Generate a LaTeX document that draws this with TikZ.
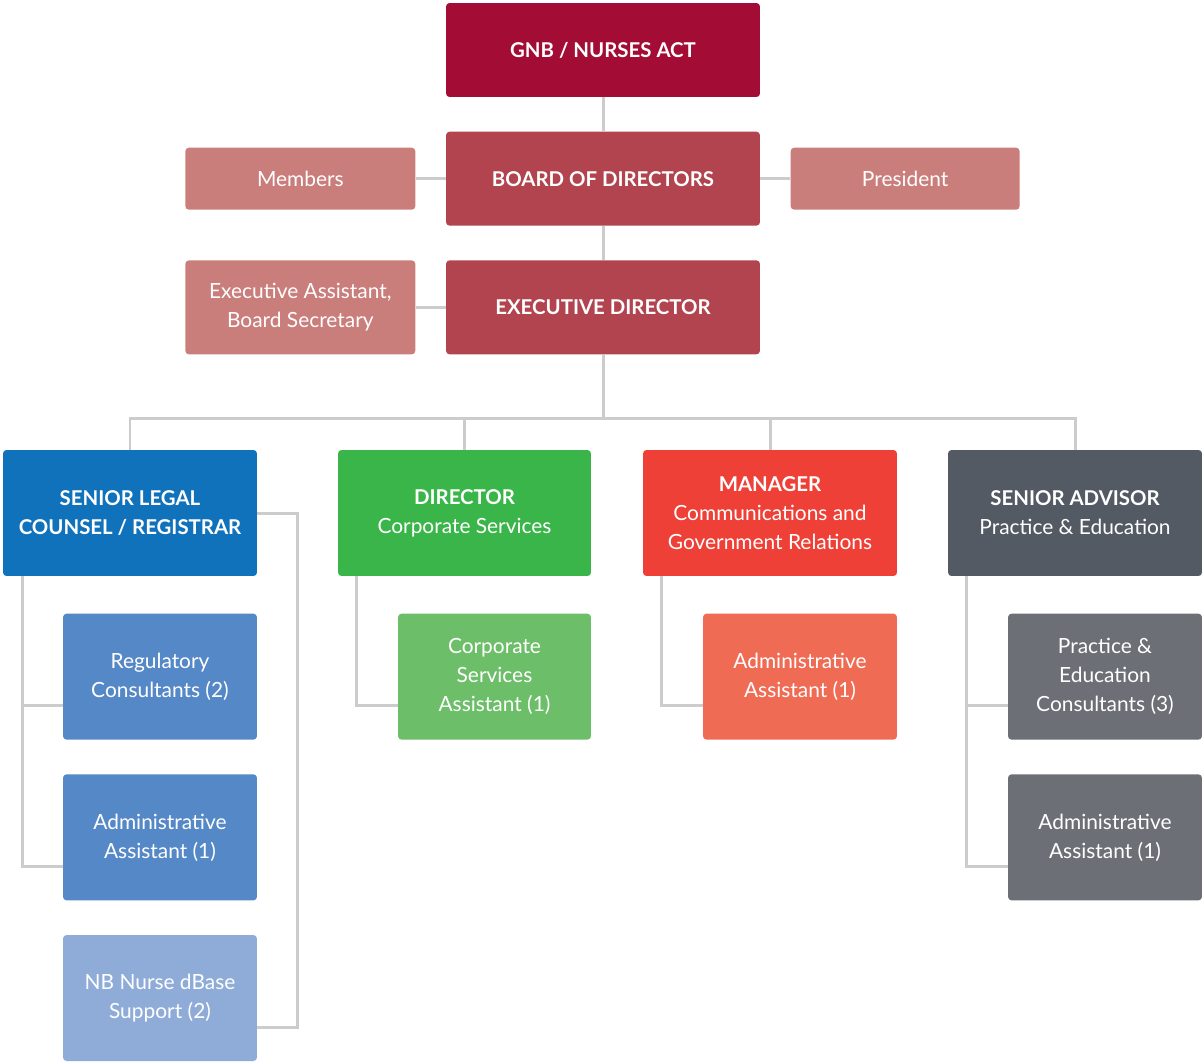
\documentclass[tikz,border=0pt]{standalone}
\usepackage{fontspec}
\setmainfont{Lato}
\usetikzlibrary{positioning, backgrounds}
\definecolor{gnbred}{HTML}{A30D35}
\definecolor{boardred}{HTML}{B1444F}
\definecolor{siderose}{HTML}{C97E7C}
\definecolor{legalblue}{HTML}{1172BC}
\definecolor{legalsub}{HTML}{5588C6}
\definecolor{dbaseblue}{HTML}{8FACD8}
\definecolor{corpgreen}{HTML}{3AB54A}
\definecolor{corpsub}{HTML}{6DBE69}
\definecolor{commred}{HTML}{EE4037}
\definecolor{commsub}{HTML}{F06B54}
\definecolor{advgray}{HTML}{545A64}
\definecolor{advsub}{HTML}{6D6F76}
\definecolor{linegray}{HTML}{CCCCCC}
\newcommand{\boxfont}{\fontsize{11.9}{16.5}\selectfont}
\newcommand{\headfont}{\fontsize{11.6}{16.5}\selectfont\bfseries}

\begin{document}
\begin{tikzpicture}[
    x=0.02cm, y=-0.02cm,
    every node/.style={font=\boxfont, text=white},
    box/.style={
      rectangle, rounded corners=2pt, align=center, inner sep=2pt
    },
    head/.style={
      box, fill=boardred, minimum width=6.28cm, minimum height=1.88cm,
      font=\headfont
    },
    side/.style={
      box, fill=siderose, minimum width=4.6cm, minimum height=1.24cm
    },
    dept/.style={
      box, minimum width=5.08cm, minimum height=2.52cm
    },
    staff/.style={
      box, minimum width=3.88cm, minimum height=2.52cm
    },
    link/.style={draw=linegray, line width=1.7pt},
  ]
  \useasboundingbox (0,0) rectangle (1203,1062);

  % ============ Governance column ============
  \node[head, fill=gnbred] (gnb) at (603,50) {GNB / NURSES ACT};
  \node[head, below=0.68cm of gnb] (board) {BOARD OF DIRECTORS};
  \node[head, below=0.68cm of board] (execdir) {EXECUTIVE DIRECTOR};

  \node[side, left=0.6cm of board] (members) {Members};
  \node[side, right=0.6cm of board, minimum width=4.58cm] (president) {President};
  \node[side, left=0.6cm of execdir, minimum height=1.88cm] (execasst)
    {Executive Assistant,\\Board Secretary};

  % ============ Departments ============
  \node[dept, fill=legalblue, font=\headfont] (legal) at (130,513)
    {SENIOR LEGAL\\COUNSEL / REGISTRAR};
  \node[dept, fill=corpgreen, minimum width=5.06cm] (director) at (464.5,513)
    {{\headfont DIRECTOR}\\Corporate Services};
  \node[dept, fill=commred] (manager) at (770,513)
    {{\headfont MANAGER}\\Communications and\\Government Relations};
  \node[dept, fill=advgray] (advisor) at (1075,513)
    {{\headfont SENIOR ADVISOR}\\Practice \& Education};

  % ============ Staff ============
  \node[staff, fill=legalsub, below left=0.74cm and 0cm of legal.south east] (reg)
    {Regulatory\\Consultants (2)};
  \node[staff, fill=legalsub, below=0.68cm of reg] (legaladmin)
    {Administrative\\Assistant (1)};
  \node[staff, fill=dbaseblue, below=0.68cm of legaladmin] (dbase)
    {NB Nurse dBase\\Support (2)};

  \node[staff, fill=corpsub, minimum width=3.86cm,
        below left=0.74cm and 0cm of director.south east] (corpasst)
    {Corporate\\Services\\Assistant (1)};

  \node[staff, fill=commsub, below left=0.74cm and 0cm of manager.south east] (commadmin)
    {Administrative\\Assistant (1)};

  \node[staff, fill=advsub, below left=0.74cm and 0cm of advisor.south east] (pracedu)
    {Practice \&\\Education\\Consultants (3)};
  \node[staff, fill=advsub, below=0.68cm of pracedu] (advadmin)
    {Administrative\\Assistant (1)};

  \coordinate (bus) at (603,418);

  % ============ Connectors ============
  \begin{scope}[on background layer]
    \draw[link] (gnb) -- (board);
    \draw[link] (board) -- (execdir);
    \draw[link] (members) -- (board);
    \draw[link] (board) -- (president);
    \draw[link] (execasst) -- (execdir);

    % Executive Director -> departments
    \draw[link] (execdir) -- (bus);
    \draw[link] (legal.north) |- (bus) -| (advisor.north);
    \draw[link] (director.north) |- (bus);
    \draw[link] (manager.north) |- (bus);

    % Legal branch
    \draw[link] ([xshift=0.4cm]legal.south west) |- ([yshift=-0.58cm]legaladmin.west);
    \draw[link] ([xshift=0.4cm]legal.south west) |- ([yshift=-0.58cm]reg.west);
    \draw[link] (legal.east) -- ++(40,0) |- ([yshift=-0.58cm]dbase.east);

    % Corporate, communications, practice branches
    \draw[link] ([xshift=0.38cm]director.south west) |- ([yshift=-0.58cm]corpasst.west);
    \draw[link] ([xshift=0.38cm]manager.south west) |- ([yshift=-0.58cm]commadmin.west);
    \draw[link] ([xshift=0.38cm]advisor.south west) |- ([yshift=-0.58cm]advadmin.west);
    \draw[link] ([xshift=0.38cm]advisor.south west) |- ([yshift=-0.58cm]pracedu.west);
  \end{scope}

\end{tikzpicture}
\end{document}
